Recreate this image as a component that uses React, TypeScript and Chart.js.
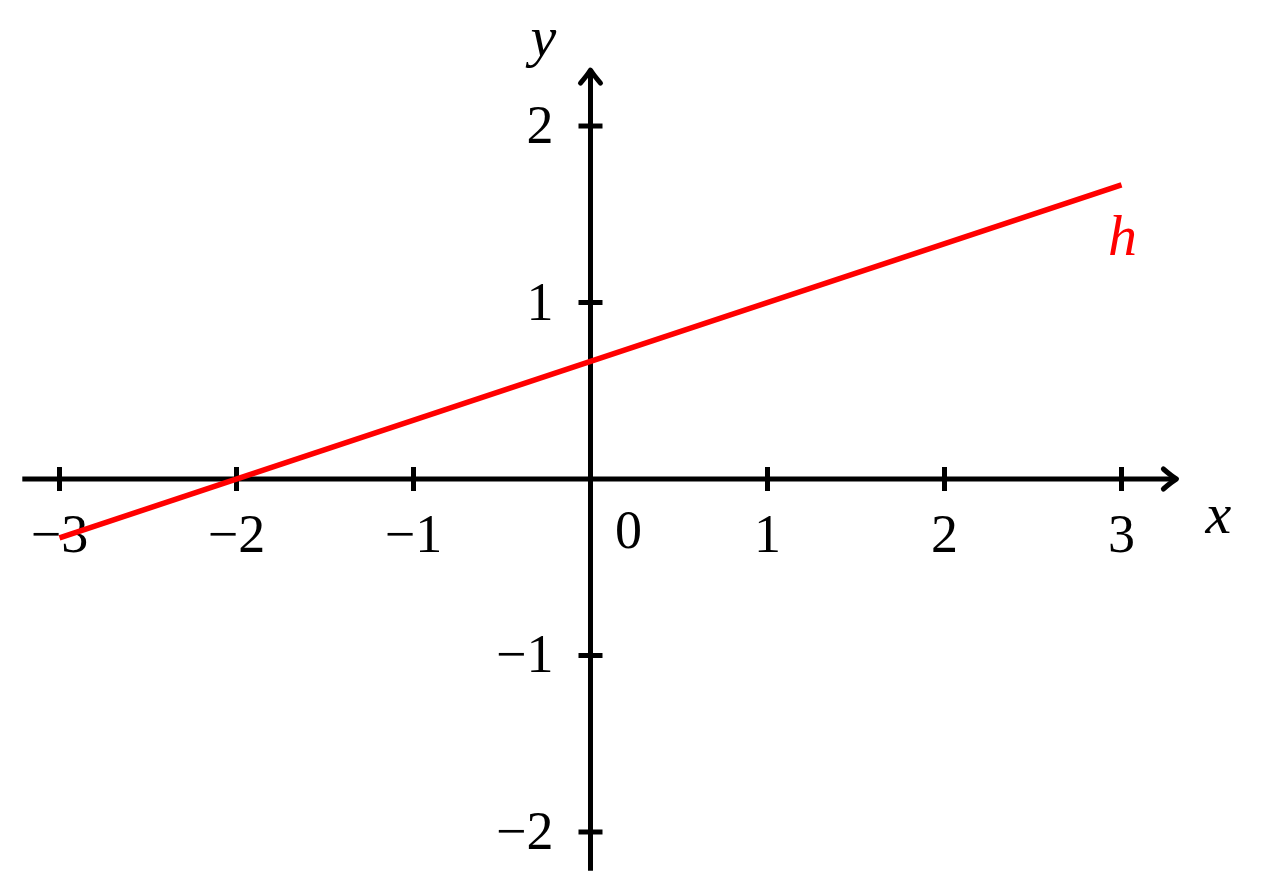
import React, { useEffect, useRef } from "react";
import { Chart, registerables } from "chart.js";

Chart.register(...registerables);

const lineX = [-3, 3];
const lineY = [-0.333, 1.667];
const xTicks = [-3, -2, -1, 1, 2, 3];
const yTicks = [-2, -1, 1, 2];
const xTickLabels = ["−3", "−2", "−1", "1", "2", "3"];
const yTickLabels = ["−2", "−1", "1", "2"];
const lineName = "h";

const RED = "#ff0000";
const NUM_FONT = '54px "Liberation Serif", "DejaVu Serif", serif';
const VAR_FONT = 'italic 58px "Liberation Serif", "DejaVu Serif", serif';

const axesPlugin = {
  id: "mathAxes",
  beforeDatasetsDraw(chart: any) {
    const { ctx } = chart;
    const xs = chart.scales.x;
    const ys = chart.scales.y;
    const px = (v: number) => xs.getPixelForValue(v);
    const py = (v: number) => ys.getPixelForValue(v);
    const x0 = px(0);
    const y0 = py(0);
    ctx.save();
    ctx.strokeStyle = "#000";
    ctx.fillStyle = "#000";
    ctx.lineWidth = 5;
    ctx.lineCap = "butt";
    // x axis
    const xStart = px(-3.21);
    const xEnd = px(3.31);
    ctx.beginPath();
    ctx.moveTo(xStart, y0);
    ctx.lineTo(xEnd - 2, y0);
    ctx.stroke();
    // y axis
    const yBottom = py(-2.22);
    const yTop = py(2.317);
    ctx.beginPath();
    ctx.moveTo(x0, yBottom);
    ctx.lineTo(x0, yTop + 2);
    ctx.stroke();
    // arrow heads
    ctx.lineCap = "round";
    ctx.lineJoin = "round";
    ctx.beginPath();
    ctx.moveTo(xEnd - 13, y0 - 10);
    ctx.quadraticCurveTo(xEnd - 5, y0 - 3, xEnd, y0);
    ctx.quadraticCurveTo(xEnd - 5, y0 + 3, xEnd - 13, y0 + 10);
    ctx.stroke();
    ctx.beginPath();
    ctx.moveTo(x0 - 10, yTop + 13);
    ctx.quadraticCurveTo(x0 - 3, yTop + 5, x0, yTop);
    ctx.quadraticCurveTo(x0 + 3, yTop + 5, x0 + 10, yTop + 13);
    ctx.stroke();
    // ticks
    ctx.lineCap = "butt";
    xTicks.forEach((t) => {
      const x = px(t);
      ctx.beginPath();
      ctx.moveTo(x, y0 - 12);
      ctx.lineTo(x, y0 + 12);
      ctx.stroke();
    });
    yTicks.forEach((t) => {
      const y = py(t);
      ctx.beginPath();
      ctx.moveTo(x0 - 12, y);
      ctx.lineTo(x0 + 12, y);
      ctx.stroke();
    });
    // tick labels
    ctx.font = NUM_FONT;
    ctx.textBaseline = "alphabetic";
    ctx.textAlign = "center";
    xTicks.forEach((t, i) => {
      ctx.fillText(xTickLabels[i], px(t), y0 + 73);
    });
    ctx.fillText("0", x0 + 38, y0 + 69);
    ctx.textAlign = "right";
    yTicks.forEach((t, i) => {
      ctx.fillText(yTickLabels[i], x0 - 37, py(t) + 17);
    });
    // axis names
    ctx.font = VAR_FONT;
    ctx.textAlign = "center";
    ctx.fillText("x", x0 + 628, y0 + 54);
    ctx.fillText("y", x0 - 47, 56);
    ctx.fillStyle = RED;
    ctx.fillText(lineName, px(3) + 1, py(1.667) + 70);
    ctx.restore();
  },
};

export default function App() {
  const ref = useRef<HTMLCanvasElement | null>(null);
  useEffect(() => {
    if (!ref.current) return;
    const chart = new Chart(ref.current, {
      type: "scatter",
      data: {
        datasets: [
          {
            label: lineName,
            data: lineX.map((x, i) => ({ x, y: lineY[i] })),
            showLine: true,
            borderColor: RED,
            backgroundColor: RED,
            borderWidth: 5.5,
            pointRadius: 0,
            borderCapStyle: "butt",
          },
        ],
      },
      options: {
        responsive: false,
        animation: false,
        layout: { padding: 0 },
        plugins: { legend: { display: false }, tooltip: { enabled: false } },
        scales: {
          x: { type: "linear", display: false, min: -3.336, max: 3.788 },
          y: { type: "linear", display: false, min: -2.255, max: 2.714 },
        },
      },
      plugins: [axesPlugin],
    });
    return () => chart.destroy();
  }, []);
  return (
    <div style={{ position: "fixed", left: 0, top: 0, width: 1261, height: 877, background: "#fff" }}>
      <canvas ref={ref} width={1261} height={877} style={{ display: "block" }} />
    </div>
  );
}
